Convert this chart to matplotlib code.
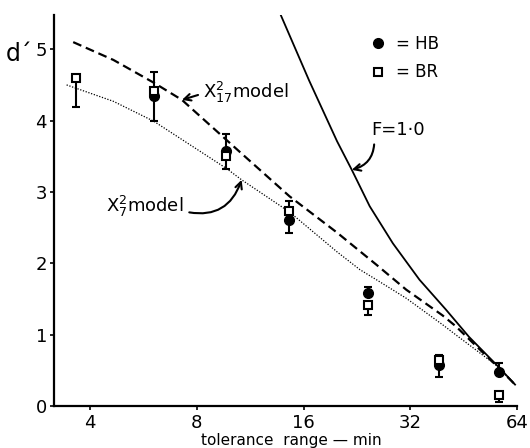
import numpy as np
import matplotlib
matplotlib.use('Agg')
import matplotlib.pyplot as plt
from matplotlib.ticker import FixedLocator, FixedFormatter, NullLocator

# ---- data ----
tol = [3.64, 6.05, 9.69, 14.6, 24.4, 38.6, 56.9]
hb = [np.nan, 4.35, 3.57, 2.61, 1.58, 0.58, 0.47]
hb_err_lo = [0, 0.36, 0.25, 0.19, 0, 0.18, 0]
hb_err_hi = [0, 0.33, 0.24, 0.26, 0.09, 0.14, 0.13]
br = [4.60, 4.42, 3.50, 2.73, 1.42, 0.65, 0.15]
br_err_lo = [0.41, 0, 0, 0, 0.15, 0, 0.10]
br_err_hi = [0, 0, 0, 0, 0, 0, 0]

chi17_x = [3.58, 4.65, 6.05, 7.26, 9.69, 10.8, 14.6, 19.9, 25.7, 31.2, 39.5, 43.0, 55.7, 63.3]
chi17_y = [5.10, 4.85, 4.53, 4.29, 3.73, 3.52, 2.94, 2.43, 1.98, 1.63, 1.27, 1.12, 0.58, 0.30]
chi7_x = [3.43, 4.65, 6.05, 9.69, 10.7, 14.6, 19.9, 23.1, 25.7, 31.2, 39.5, 43.0, 55.7, 63.3]
chi7_y = [4.50, 4.27, 3.99, 3.33, 3.17, 2.72, 2.16, 1.91, 1.77, 1.51, 1.14, 1.00, 0.58, 0.30]
f1_x = [13.8, 16.6, 19.9, 21.9, 24.6, 28.6, 34.0, 40.4, 46.9, 56.8, 63.3]
f1_y = [5.48, 4.56, 3.71, 3.31, 2.80, 2.28, 1.77, 1.35, 0.97, 0.55, 0.30]

xticks = [4, 8, 16, 32, 64]
xticklabels = ['4', '8', '16', '32', '64']
yticks = [0, 1, 2, 3, 4, 5]

# ---- figure ----
fig = plt.figure(figsize=(5.30, 4.48), dpi=100)
ax = fig.add_axes([54/530, 42/448, 463/530, 391/448])

ax.set_xscale('log', base=2)
ax.set_xlim(3.16, 64.1)
ax.set_ylim(0, 5.48)

ax.plot(chi17_x, chi17_y, color='black', lw=1.6, linestyle=(0, (4, 2.2)), zorder=2)
ax.plot(chi7_x, chi7_y, color='black', lw=0.9, linestyle=(0, (1, 1.3)), zorder=2)
ax.plot(f1_x, f1_y, color='black', lw=1.3, linestyle='-', zorder=2)

ax.errorbar(tol, hb, yerr=[hb_err_lo, hb_err_hi], fmt='none', ecolor='black',
            elinewidth=1.5, capsize=2.8, capthick=1.5, zorder=3)
ax.errorbar(tol, br, yerr=[br_err_lo, br_err_hi], fmt='none', ecolor='black',
            elinewidth=1.5, capsize=2.8, capthick=1.5, zorder=3)
hb_line, = ax.plot(tol, hb, linestyle='none', marker='o', markersize=7,
                   markerfacecolor='black', markeredgecolor='black', zorder=4)
br_line, = ax.plot(tol, br, linestyle='none', marker='s', markersize=6,
                   markerfacecolor='white', markeredgecolor='black',
                   markeredgewidth=1.5, zorder=5)

# axes styling
for s in ['top', 'right']:
    ax.spines[s].set_visible(False)
for s in ['left', 'bottom']:
    ax.spines[s].set_linewidth(1.6)
ax.xaxis.set_major_locator(FixedLocator(xticks))
ax.xaxis.set_major_formatter(FixedFormatter(xticklabels))
ax.xaxis.set_minor_locator(NullLocator())
ax.set_yticks(yticks)
ax.tick_params(axis='both', direction='out', length=3, width=1.2, labelsize=13)
ax.tick_params(axis='x', pad=2.5)
ax.tick_params(axis='y', pad=2)

ax.set_xlabel('tolerance  range \u2014 min', fontsize=11)
ax.xaxis.set_label_coords(0.512, -0.069)
ax.set_ylabel('d\u00b4', fontsize=17, rotation=0)
ax.yaxis.set_label_coords(-0.075, 0.87)

# legend
ax.legend(handles=[hb_line, br_line], labels=['= HB', '= BR'], loc='upper left',
          bbox_to_anchor=(0.682, 0.95), frameon=False, fontsize=12,
          handlelength=1.0, handletextpad=0.6, labelspacing=0.65,
          borderpad=0, borderaxespad=0, numpoints=1)

# annotations
CHI = '\u03a7'
arrow = dict(arrowstyle='->', color='black', lw=1.5, mutation_scale=12,
             shrinkA=2, shrinkB=0)
ax.annotate('$\\mathregular{' + CHI + '^{2}_{17}model}$',
            xy=(chi17_x[3], chi17_y[3]), xytext=(8.35, 4.40),
            fontsize=13, ha='left', va='center',
            arrowprops=dict(arrow, relpos=(0, 0.45)))
ax.annotate('$\\mathregular{' + CHI + '^{2}_{7}model}$',
            xy=(chi7_x[4], chi7_y[4]), xytext=(4.44, 2.80),
            fontsize=13, ha='left', va='center',
            arrowprops=dict(arrow, relpos=(1, 0.3),
                            connectionstyle='arc3,rad=0.45'))
ax.annotate('F=1\u00b70',
            xy=(f1_x[3], f1_y[3]), xytext=(24.9, 3.87),
            fontsize=13, ha='left', va='center',
            arrowprops=dict(arrow, relpos=(0.05, 0),
                            connectionstyle='arc3,rad=-0.4'))

fig.savefig('out.png', dpi=100)
